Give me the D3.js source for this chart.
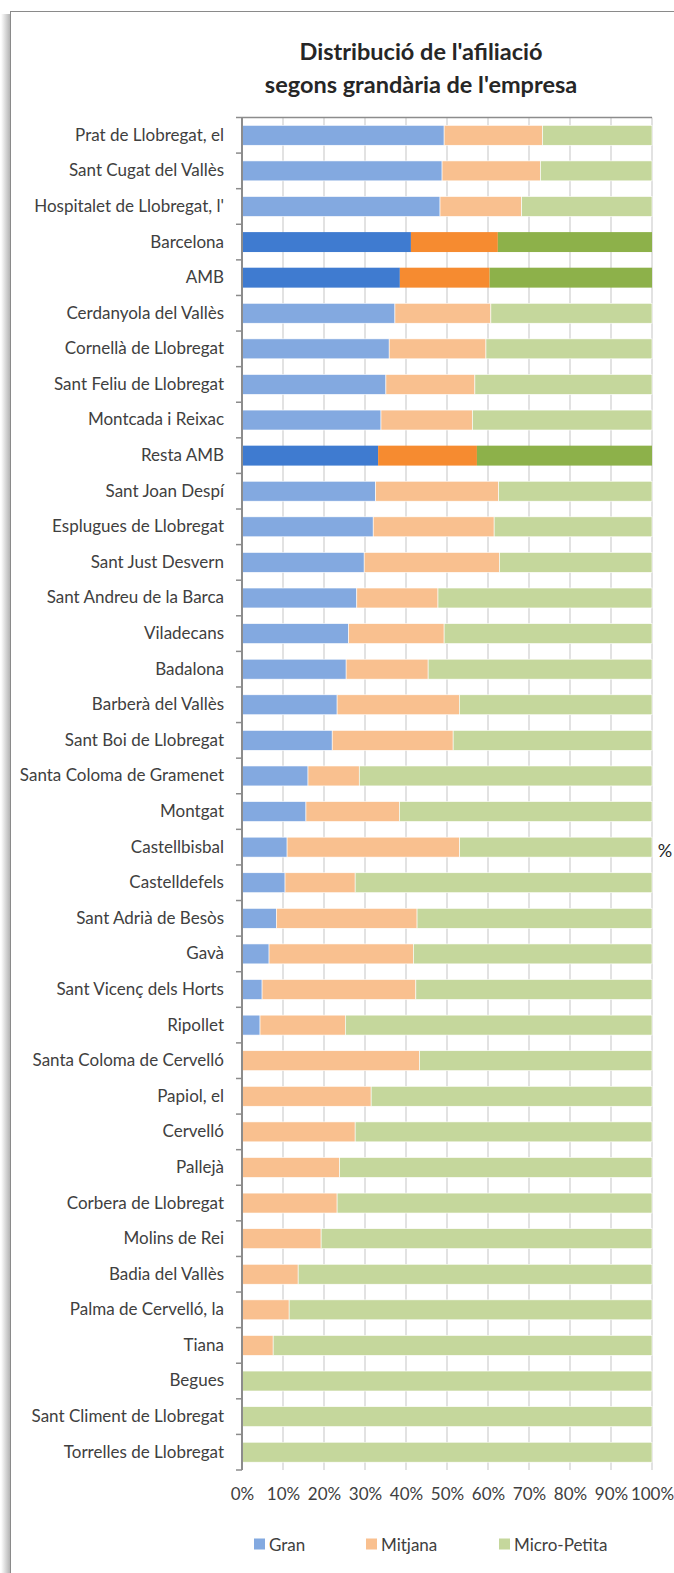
<!DOCTYPE html>
<html>
<head>
<meta charset="utf-8">
<script src="https://cdn.jsdelivr.net/npm/d3@7"></script>
<style>
    html, body { margin: 0; padding: 0; background: #fff; }
    #dataChart svg { display: block; }
</style>
</head>
<body>
<div id="dataChart"></div>
<script>
const categories = [
    'Prat de Llobregat, el', 'Sant Cugat del Vallès', "Hospitalet de Llobregat, l'", 'Barcelona', 'AMB',
    'Cerdanyola del Vallès', 'Cornellà de Llobregat', 'Sant Feliu de Llobregat', 'Montcada i Reixac', 'Resta AMB',
    'Sant Joan Despí', 'Esplugues de Llobregat', 'Sant Just Desvern', 'Sant Andreu de la Barca', 'Viladecans',
    'Badalona', 'Barberà del Vallès', 'Sant Boi de Llobregat', 'Santa Coloma de Gramenet', 'Montgat',
    'Castellbisbal', 'Castelldefels', 'Sant Adrià de Besòs', 'Gavà', 'Sant Vicenç dels Horts',
    'Ripollet', 'Santa Coloma de Cervelló', 'Papiol, el', 'Cervelló', 'Pallejà',
    'Corbera de Llobregat', 'Molins de Rei', 'Badia del Vallès', 'Palma de Cervelló, la', 'Tiana',
    'Begues', 'Sant Climent de Llobregat', 'Torrelles de Llobregat'
]
const gran = [
    49.3, 48.8, 48.3, 41.2, 38.5,
    37.3, 35.9, 35.1, 33.9, 33.2,
    32.6, 32.0, 29.8, 28.0, 26.0,
    25.4, 23.2, 22.0, 16.1, 15.6,
    11.0, 10.5, 8.4, 6.6, 4.9,
    4.4, 0, 0, 0, 0,
    0, 0, 0, 0, 0,
    0, 0, 0
]
const mitjana = [
    24.0, 24.0, 19.9, 21.2, 21.9,
    23.4, 23.6, 21.7, 22.3, 24.1,
    30.0, 29.5, 33.0, 19.8, 23.3,
    20.0, 29.8, 29.5, 12.5, 22.8,
    42.1, 17.1, 34.3, 35.2, 37.5,
    20.8, 43.3, 31.5, 27.6, 23.8,
    23.2, 19.3, 13.7, 11.5, 7.6,
    0, 0, 0
]
const microPetita = [
    26.7, 27.2, 31.8, 37.6, 39.6,
    39.3, 40.5, 43.2, 43.8, 42.7,
    37.4, 38.5, 37.2, 52.2, 50.7,
    54.6, 47.0, 48.5, 71.4, 61.6,
    46.9, 72.4, 57.3, 58.2, 57.6,
    74.8, 56.7, 68.5, 72.4, 76.2,
    76.8, 80.7, 86.3, 88.5, 92.4,
    100, 100, 100
]
const highlighted = ['Barcelona', 'AMB', 'Resta AMB']
const seriesNames = ['Gran', 'Mitjana', 'Micro-Petita']
const xTicks = [0, 10, 20, 30, 40, 50, 60, 70, 80, 90, 100]

const viewBoxWidth = 674
const viewBoxHeight = 1573
const fontFamily = 'Lato, "Open Sans", sans-serif'
const labelSize = '17px'

const svg = d3.select('#dataChart')
    .append('svg')
    .attr('width', viewBoxWidth)
    .attr('height', viewBoxHeight)
    .attr('viewBox', [0, 0, viewBoxWidth, viewBoxHeight])
    .style('font-family', fontFamily)

const rows = categories.map((c, i) => ({
    category: c,
    'Gran': gran[i],
    'Mitjana': mitjana[i],
    'Micro-Petita': microPetita[i]
}))
const stacked = d3.stack().keys(seriesNames)(rows)

const colourLight = d3.scaleOrdinal().domain(seriesNames).range(['#83a9e0', '#f9c08f', '#c5d79c'])
const colourDark = d3.scaleOrdinal().domain(seriesNames).range(['#3f7bd0', '#f68b30', '#8db14a'])

// Frame with the left shadow
const defs = svg.append('defs')
const shadow = defs.append('linearGradient').attr('id', 'frame-shadow')
shadow.append('stop').attr('offset', '0%').attr('stop-color', '#ffffff')
shadow.append('stop').attr('offset', '100%').attr('stop-color', '#b4b4b4')
svg.append('rect')
    .attr('x', 1).attr('y', 14)
    .attr('width', 9).attr('height', viewBoxHeight)
    .attr('fill', 'url(#frame-shadow)')
svg.append('rect')
    .attr('x', 10.5).attr('y', 11.5)
    .attr('width', viewBoxWidth + 20).attr('height', viewBoxHeight + 20)
    .attr('fill', 'none')
    .attr('stroke', '#8a8a8a')
    .attr('stroke-width', 1)

// Title
svg.append('text')
    .attr('x', 421)
    .attr('text-anchor', 'middle')
    .attr('font-weight', 'bold')
    .attr('font-size', '23.5px')
    .attr('fill', '#262626')
    .selectAll('tspan')
    .data(["Distribució de l'afiliació", "segons grandària de l'empresa"])
    .enter()
    .append('tspan')
    .attr('x', 421)
    .attr('y', (d, i) => 60 + i * 33)
    .text(d => d)

// Scales
const x = d3.scaleLinear().domain([0, 100]).range([242, 652])
const y = d3.scaleBand().domain(categories).range([117.5, 1470]).paddingInner(0.44).paddingOuter(0.22)

// Gridlines
svg.append('g')
    .selectAll('line')
    .data(xTicks.slice(1))
    .enter()
    .append('line')
    .attr('x1', d => x(d)).attr('x2', d => x(d))
    .attr('y1', 117.5).attr('y2', 1470)
    .attr('stroke', '#d9d9d9')
    .attr('stroke-width', 1.5)

// Bars
svg.append('g')
    .selectAll('g')
    .data(stacked)
    .enter()
    .append('g')
    .attr('data-series', d => d.key)
    .selectAll('rect')
    .data(d => d.map(v => ({ key: d.key, v })))
    .enter()
    .append('rect')
    .attr('x', d => x(d.v[0]))
    .attr('y', d => y(d.v.data.category))
    .attr('width', d => x(d.v[1]) - x(d.v[0]))
    .attr('height', y.bandwidth())
    .attr('fill', d => highlighted.includes(d.v.data.category) ? colourDark(d.key) : colourLight(d.key))
    .attr('stroke', d => (d.v[1] - d.v[0]) > 0 && !highlighted.includes(d.v.data.category) ? '#ffffff' : 'none')
    .attr('stroke-width', 0.6)

// Top border of the plot
svg.append('line')
    .attr('x1', 242).attr('x2', 652)
    .attr('y1', 117.5).attr('y2', 117.5)
    .attr('stroke', '#8c8c8c')
    .attr('stroke-width', 1.5)

// y-axis
const yAxis = svg.append('g')
    .attr('transform', 'translate(242, 0)')
    .call(d3.axisLeft(y).tickSize(0).tickPadding(18))
yAxis.select('.domain')
    .attr('stroke', '#8c8c8c')
    .attr('stroke-width', 2)
    .attr('d', 'M0,117.5V1470')
yAxis.selectAll('text')
    .attr('font-family', fontFamily)
    .attr('font-size', labelSize)
    .attr('fill', '#404040')
const boundaries = d3.range(categories.length + 1).map(i => 117.5 + i * y.step())
yAxis.append('g')
    .selectAll('line')
    .data(boundaries)
    .enter()
    .append('line')
    .attr('x1', -6).attr('x2', 0)
    .attr('y1', d => d).attr('y2', d => d)
    .attr('stroke', '#8c8c8c')
    .attr('stroke-width', 1.5)

// x-axis labels
const xAxis = svg.append('g')
    .attr('transform', 'translate(0, 1470)')
    .call(d3.axisBottom(x).tickValues(xTicks).tickSize(0).tickPadding(18).tickFormat(d => d + '%'))
xAxis.select('.domain').remove()
xAxis.selectAll('text')
    .attr('font-family', fontFamily)
    .attr('font-size', labelSize)
    .attr('fill', '#404040')

// Stray axis title on the right
svg.append('text')
    .attr('x', 665)
    .attr('y', 857)
    .attr('text-anchor', 'middle')
    .attr('font-size', '18px')
    .attr('fill', '#262626')
    .text('%')

// Legend
const legendX = [254, 366, 499]
const legend = svg.append('g')
    .selectAll('g')
    .data(seriesNames)
    .enter()
    .append('g')
    .attr('transform', (d, i) => `translate(${legendX[i]}, 1544)`)
legend.append('rect')
    .attr('x', 0).attr('y', -5.5)
    .attr('width', 11).attr('height', 11)
    .attr('fill', d => colourLight(d))
legend.append('text')
    .attr('x', 15)
    .attr('y', 0)
    .attr('dominant-baseline', 'central')
    .attr('font-size', labelSize)
    .attr('fill', '#404040')
    .text(d => d)
</script>
</body>
</html>
